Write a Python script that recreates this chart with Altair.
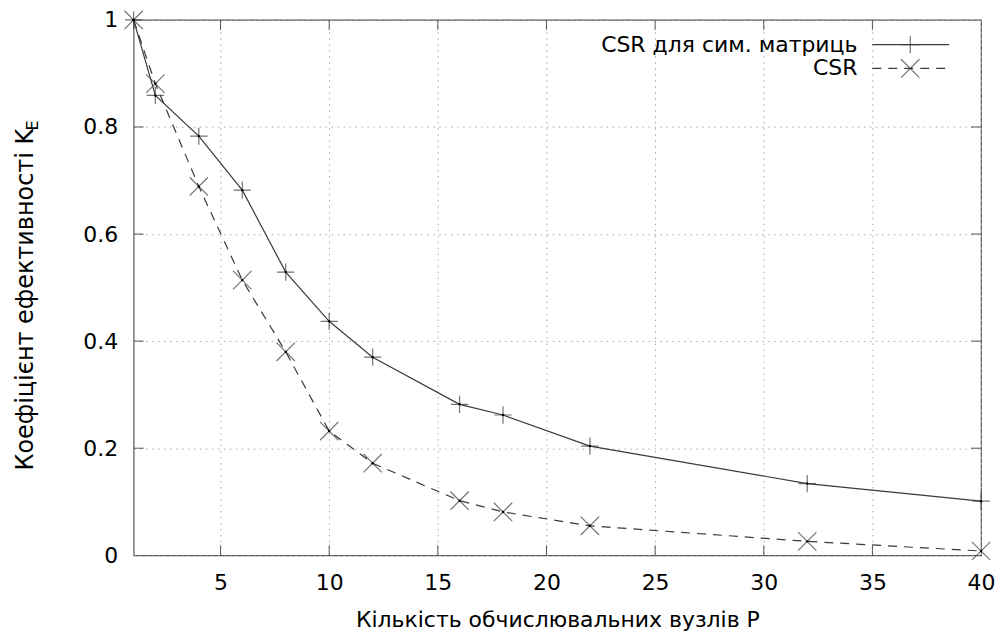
import altair as alt
import pandas as pd

# ---- data ----
P = [1, 2, 4, 6, 8, 10, 12, 16, 18, 22, 32, 40]
ke_sym = [1.0, 0.859, 0.783, 0.682, 0.529, 0.437, 0.370, 0.282, 0.262, 0.204, 0.134, 0.101]
ke_csr = [1.0, 0.881, 0.689, 0.514, 0.380, 0.232, 0.172, 0.102, 0.081, 0.055, 0.026, 0.008]
series_labels = ["CSR для сим. матриць", "CSR"]
x_ticks = [5, 10, 15, 20, 25, 30, 35]
y_ticks = [0.2, 0.4, 0.6, 0.8]
x_label_values = [5, 10, 15, 20, 25, 30, 35, 40]
y_label_values = [0, 0.2, 0.4, 0.6, 0.8, 1.0]

FONT = "DejaVu Sans"
FS = 22
LINE = "#3a3a3a"
W, H = 850, 537
PLUS = "M-1,0L1,0M0,-1L0,1"
CROSS = "M-1,-1L1,1M-1,1L1,-1"
INTERP = "linear"
GRID_DASH = [1.5, 4.5]
GRID_COLOR = "#a8a8a8"

df_sym = pd.DataFrame({"P": P, "K": ke_sym})
df_csr = pd.DataFrame({"P": P, "K": ke_csr})

xs = alt.Scale(domain=[1, 40], nice=False, zero=False)
ys = alt.Scale(domain=[0, 1], nice=False, zero=False)

X = alt.X("P:Q", scale=xs,
          axis=alt.Axis(values=x_label_values, title="Кількість обчислювальних вузлів P",
                        grid=True, gridDash=GRID_DASH, gridColor=GRID_COLOR, gridWidth=1,
                        ticks=False, domain=False, labelPadding=17, labelFlush=False,
                        titlePadding=16, labelFont=FONT, labelFontSize=FS, labelColor="black",
                        titleFont=FONT, titleFontSize=FS, titleColor="black",
                        titleFontWeight="normal"))
Y = alt.Y("K:Q", scale=ys,
          axis=alt.Axis(values=y_label_values, format=".1~f", title=None,
                        grid=True, gridDash=GRID_DASH, gridColor=GRID_COLOR, gridWidth=1,
                        ticks=False, domain=False, labelPadding=16,
                        labelFont=FONT, labelFontSize=FS, labelColor="black"))

base_sym = alt.Chart(df_sym)
base_csr = alt.Chart(df_csr)

line_sym = base_sym.mark_line(interpolate=INTERP, color=LINE, strokeWidth=1.2).encode(x=X, y=Y)
line_csr = base_csr.mark_line(interpolate=INTERP, color=LINE, strokeWidth=1.2,
                              strokeDash=[9, 7]).encode(x=X, y=Y)
pt_sym = base_sym.mark_point(shape=PLUS, size=300, color=LINE, strokeWidth=1.2,
                             filled=False).encode(x="P:Q", y="K:Q")
pt_csr = base_csr.mark_point(shape=CROSS, size=340, color=LINE, strokeWidth=1.2,
                             filled=False).encode(x="P:Q", y="K:Q")
dot_sym = base_sym.mark_circle(size=6, color="black", opacity=1).encode(x="P:Q", y="K:Q")
dot_csr = base_csr.mark_circle(size=6, color="black", opacity=1).encode(x="P:Q", y="K:Q")

# inward ticks (gnuplot style)
dfx = pd.DataFrame({"P": x_ticks})
dfy = pd.DataFrame({"K": y_ticks})
TL = 10
tick_b = alt.Chart(dfx).mark_rule(color="#555", strokeWidth=1).encode(
    x="P:Q", y=alt.value(H), y2=alt.value(H - TL))
tick_t = alt.Chart(dfx).mark_rule(color="#555", strokeWidth=1).encode(
    x="P:Q", y=alt.value(0), y2=alt.value(TL))
tick_l = alt.Chart(dfy).mark_rule(color="#555", strokeWidth=1).encode(
    y="K:Q", x=alt.value(0), x2=alt.value(TL))
tick_r = alt.Chart(dfy).mark_rule(color="#555", strokeWidth=1).encode(
    y="K:Q", x=alt.value(W), x2=alt.value(W - TL))

# y title with subscript
one = pd.DataFrame({"a": [0]})
ytitle = alt.Chart(one).mark_text(text="Коефіцієнт ефективності K", font=FONT, fontSize=24,
                                  angle=270, align="left", baseline="alphabetic",
                                  color="black").encode(x=alt.value(-101), y=alt.value(452))
ysub = alt.Chart(one).mark_text(text="E", font=FONT, fontSize=16,
                                angle=270, align="left", baseline="alphabetic",
                                color="black").encode(x=alt.value(-96), y=alt.value(111))

# legend (inside, top right)
LX_T, LX0, LX1, LXM = 726, 741, 818, 779
LY = [24.7, 48.7]
leg_t1 = alt.Chart(one).mark_text(text=series_labels[0], font=FONT, fontSize=FS, align="right",
                                  baseline="middle", color="black").encode(
    x=alt.value(LX_T), y=alt.value(LY[0]))
leg_t2 = alt.Chart(one).mark_text(text=series_labels[1], font=FONT, fontSize=FS, align="right",
                                  baseline="middle", color="black").encode(
    x=alt.value(LX_T), y=alt.value(LY[1]))
leg_l1 = alt.Chart(one).mark_rule(color=LINE, strokeWidth=1.2).encode(
    x=alt.value(LX0), x2=alt.value(LX1), y=alt.value(LY[0]))
leg_l2 = alt.Chart(one).mark_rule(color=LINE, strokeWidth=1.2, strokeDash=[9, 7]).encode(
    x=alt.value(LX0), x2=alt.value(LX1), y=alt.value(LY[1]))
leg_p1 = alt.Chart(one).mark_point(shape=PLUS, size=300, color=LINE, strokeWidth=1.2,
                                   filled=False).encode(x=alt.value(LXM), y=alt.value(LY[0]))
leg_p2 = alt.Chart(one).mark_point(shape=CROSS, size=340, color=LINE, strokeWidth=1.2,
                                   filled=False).encode(x=alt.value(LXM), y=alt.value(LY[1]))

chart = alt.layer(
    line_sym, line_csr, tick_b, tick_t, tick_l, tick_r,
    pt_sym, pt_csr, dot_sym, dot_csr,
    ytitle, ysub, leg_t1, leg_t2, leg_l1, leg_l2, leg_p1, leg_p2,
).properties(
    width=W, height=H,
    padding={"left": 126, "top": 11, "right": 14, "bottom": 79},
    autosize=alt.AutoSizeParams(type="none"),
    background="white",
).configure_view(
    stroke="#555", strokeWidth=1.2
)

chart.save("out.html", embed_options={"renderer": "svg", "actions": False})
